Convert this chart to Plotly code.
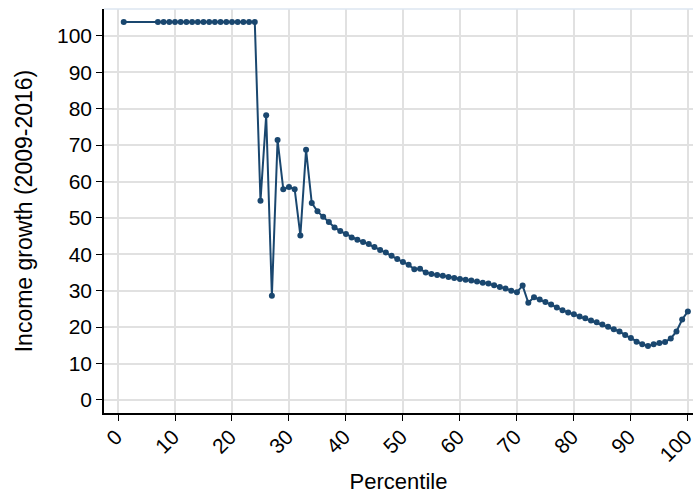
import plotly.graph_objects as go

percentile = [1] + list(range(7, 101))
growth_flat = [103.8] * 19  # percentiles 1, 7..24
growth_rest = [
    54.7, 78.2, 28.6, 71.4, 57.9, 58.5, 57.9, 45.2, 68.7, 54.1,   # 25-34
    51.8, 50.3, 48.9, 47.4, 46.4, 45.6, 44.6, 44.0, 43.4, 42.8,   # 35-44
    42.0, 41.2, 40.5, 39.6, 38.7, 37.9, 37.1, 35.9, 36.0, 35.0,   # 45-54
    34.6, 34.3, 34.1, 33.8, 33.5, 33.2, 33.0, 32.8, 32.5, 32.2,   # 55-64
    32.0, 31.5, 31.0, 30.6, 30.0, 29.6, 31.4, 26.7, 28.2, 27.6,   # 65-74
    26.9, 26.2, 25.4, 24.6, 24.0, 23.5, 22.9, 22.4, 21.8, 21.3,   # 75-84
    20.7, 20.1, 19.4, 18.8, 17.8, 17.0, 16.0, 15.3, 14.8, 15.3,   # 85-94
    15.6, 15.9, 16.9, 18.8, 22.1, 24.3,                           # 95-100
]
growth = growth_flat + growth_rest

x_ticks = list(range(0, 101, 10))
x_tick_labels = [str(v) for v in x_ticks]
y_ticks = list(range(0, 101, 10))
y_tick_labels = [str(v) for v in y_ticks]

navy = "rgb(26,71,111)"
grid = "rgb(225,225,225)"
font_family = "Liberation Sans, Arial, sans-serif"

fig = go.Figure()
fig.add_trace(go.Scatter(
    x=percentile, y=growth, mode="lines+markers",
    line=dict(color=navy, width=2),
    marker=dict(color=navy, size=6),
    showlegend=False,
))

# rotated x tick labels (placed at the axis' tick values)
annotations = [
    dict(x=v, xref="x", y=0, yref="paper", text=t, textangle=-45,
         xanchor="right", yanchor="top", xshift=11, yshift=-9,
         showarrow=False, font=dict(size=21, family=font_family, color="black"))
    for v, t in zip(x_ticks, x_tick_labels)
]

fig.update_layout(
    width=694, height=496,
    margin=dict(l=104, r=1, t=9, b=83, autoexpand=False),
    paper_bgcolor="white", plot_bgcolor="white",
    font=dict(family=font_family, color="black"),
    xaxis=dict(
        range=[-2.46, 100.9], tickvals=x_ticks, showticklabels=False,
        showgrid=True, gridcolor=grid, gridwidth=1.5, zeroline=False,
        showline=True, linecolor="black", linewidth=1.5,
        ticks="outside", ticklen=6, tickcolor="black", tickwidth=1.3,
        title=dict(text="Percentile", font=dict(size=22), standoff=54),
    ),
    yaxis=dict(
        range=[-3.6, 107.4], tickvals=y_ticks, ticktext=y_tick_labels,
        tickfont=dict(size=21), ticklabeloverflow="allow",
        showgrid=True, gridcolor=grid, gridwidth=1.5, zeroline=False,
        showline=True, linecolor="black", linewidth=1.5,
        ticks="outside", ticklen=6, tickcolor="black", tickwidth=1.3,
        title=dict(text="Income growth (2009-2016)", font=dict(size=23), standoff=18),
    ),
    annotations=annotations,
    shapes=[dict(type="line", xref="paper", yref="paper", x0=0, x1=1, y0=1, y1=1,
                 line=dict(color="rgb(220,230,240)", width=1.5))],
)

fig.write_html("out.html")
